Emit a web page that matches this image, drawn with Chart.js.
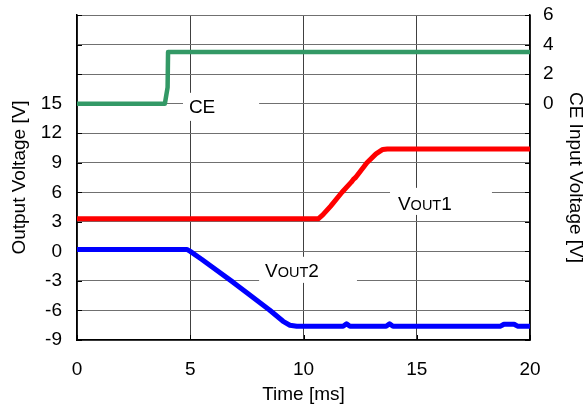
<!DOCTYPE html>
<html>
<head>
<meta charset="utf-8">
<script src="https://cdn.jsdelivr.net/npm/chart.js@4.4.1/dist/chart.umd.min.js"></script>
<style>
html,body{margin:0;padding:0;background:#fff;}
#wrap{width:587px;height:416px;position:relative;}
</style>
</head>
<body>
<div id="wrap"><canvas id="c" width="587" height="416"></canvas></div>
<script>
// ---- data ----
const ceTime   = [0, 3.88, 4.0, 4.02, 20];
const ceVolt   = [0, 0, 1.1, 3.5, 3.5];

const v1Time   = [0, 10.65, 10.85, 11.2, 11.7, 12.1, 12.2, 12.3, 12.8, 13.2, 13.5, 13.7, 20];
const v1Volt   = [3.3, 3.3, 3.7, 4.6, 6.0, 7.0, 7.3, 7.5, 9.0, 9.9, 10.35, 10.4, 10.4];

const v2Time   = [0, 4.85, 5.0, 5.5, 6.0, 6.9, 7.5, 8.5, 9.1, 9.4, 9.7, 11.75, 11.9, 12.05, 13.65, 13.8, 13.95, 18.7, 18.85, 19.3, 19.45, 20];
const v2Volt   = [0.2, 0.2, 0.0, -0.8, -1.65, -3.15, -4.2, -5.95, -7.1, -7.5, -7.6, -7.6, -7.35, -7.6, -7.6, -7.35, -7.6, -7.6, -7.4, -7.4, -7.6, -7.6];

const xTicks     = [0, 5, 10, 15, 20];
const leftLabels = [-9, -6, -3, 0, 3, 6, 9, 12, 15];
const rightLabels= [0, 2, 4, 6];

const pts = (t, v) => t.map((x, i) => ({x: x, y: v[i]}));

const FONT = "'Liberation Sans', Arial, sans-serif";

const textLabels = [
  {big:'CE', small:'', tail:'', x0:4.68, x1:8.04, yt:16.1, yb:13.25, tx:4.94, ty:14.0},
  {big:'V', small:'OUT', tail:'1', x0:13.82, x1:18.32, yt:6.45, yb:3.7, tx:14.17, ty:4.25},
  {big:'V', small:'OUT', tail:'2', x0:8.04, x1:12.36, yt:-0.55, yb:-3.2, tx:8.30, ty:-2.65}
];

const labelPlugin = {
  id: 'labels',
  beforeDatasetsDraw(chart) {
    const ctx = chart.ctx, xs = chart.scales.x, ys = chart.scales.y;
    ctx.save();
    const a = chart.chartArea;
    ctx.strokeStyle = '#000';
    ctx.lineWidth = 1;
    ys.ticks.forEach(t => {
      const py = Math.round(ys.getPixelForValue(t.value)) + 0.5;
      ctx.beginPath(); ctx.moveTo(a.left, py); ctx.lineTo(a.left + 5, py); ctx.stroke();
      ctx.beginPath(); ctx.moveTo(a.right, py); ctx.lineTo(a.right - 5, py); ctx.stroke();
    });
    xs.ticks.forEach(t => {
      const px = Math.round(xs.getPixelForValue(t.value)) + 0.5;
      ctx.beginPath(); ctx.moveTo(px, a.bottom); ctx.lineTo(px, a.bottom - 5); ctx.stroke();
    });
    textLabels.forEach(l => {
      const X0 = xs.getPixelForValue(l.x0), X1 = xs.getPixelForValue(l.x1);
      const Y0 = ys.getPixelForValue(l.yt), Y1 = ys.getPixelForValue(l.yb);
      ctx.fillStyle = '#fff';
      ctx.fillRect(X0, Y0, X1 - X0, Y1 - Y0);
      ctx.fillStyle = '#000';
      ctx.textBaseline = 'alphabetic';
      ctx.textAlign = 'left';
      let x = xs.getPixelForValue(l.tx);
      const y = ys.getPixelForValue(l.ty);
      ctx.font = '19px ' + FONT;
      ctx.fillText(l.big, x, y);
      x += ctx.measureText(l.big).width;
      if (l.small) {
        ctx.font = '14.5px ' + FONT;
        ctx.fillText(l.small, x, y);
        x += ctx.measureText(l.small).width;
      }
      if (l.tail) {
        ctx.font = '19px ' + FONT;
        ctx.fillText(l.tail, x, y);
      }
    });
    ctx.restore();
  }
};

const zeroPad = s => { s.paddingTop = 0; s.paddingBottom = 0; s.paddingLeft = 0; s.paddingRight = 0; };

new Chart(document.getElementById('c'), {
  type: 'line',
  data: {
    datasets: [
      {data: pts(ceTime, ceVolt), yAxisID: 'y2', borderColor: '#339966', borderWidth: 4.5},
      {data: pts(v1Time, v1Volt), yAxisID: 'y', borderColor: '#ff0000', borderWidth: 5},
      {data: pts(v2Time, v2Volt), yAxisID: 'y', borderColor: '#0000ff', borderWidth: 5}
    ]
  },
  options: {
    responsive: false,
    animation: false,
    events: [],
    layout: {padding: {top: 15, left: 0, right: 0, bottom: 0}},
    elements: {point: {radius: 0}, line: {tension: 0, borderJoinStyle: 'round', borderCapStyle: 'butt'}},
    plugins: {legend: {display: false}, tooltip: {enabled: false}},
    scales: {
      x: {
        type: 'linear', min: 0, max: 20,
        afterBuildTicks: s => { s.ticks = xTicks.map(v => ({value: v})); },
        afterFit: s => { s.height = 76; zeroPad(s); },
        grid: {color: '#404040', lineWidth: 1, drawTicks: false},
        border: {color: '#000', width: 1.5},
        ticks: {padding: 18, color: '#000', font: {family: FONT, size: 19}, maxRotation: 0},
        title: {display: true, text: 'Time [ms]', color: '#000', font: {family: FONT, size: 19}, padding: {top: 4, bottom: 10}}
      },
      y: {
        position: 'left', min: -9, max: 24,
        ticks: {stepSize: 3, padding: 15, color: '#000', font: {family: FONT, size: 19},
          callback: v => leftLabels.includes(v) ? String(v) : ''},
        afterFit: s => { s.width = 77; zeroPad(s); },
        grid: {color: '#707070', lineWidth: 1, drawTicks: false},
        border: {color: '#000', width: 1.5},
        title: {display: true, text: 'Output Voltage [V]', color: '#000', font: {family: FONT, size: 19}, padding: {top: 8, bottom: 0}}
      },
      y2: {
        position: 'right', min: -16, max: 6,
        ticks: {stepSize: 2, padding: 13, color: '#000', font: {family: FONT, size: 19},
          callback: v => rightLabels.includes(v) ? String(v) : ''},
        afterFit: s => { s.width = 57; zeroPad(s); },
        grid: {display: false, drawTicks: false},
        border: {color: '#000', width: 1.5},
        title: {display: true, text: 'CE Input Voltage [V]', color: '#000', font: {family: FONT, size: 19}, padding: {top: 0, bottom: 0}}
      }
    }
  },
  plugins: [labelPlugin]
});
</script>
</body>
</html>
